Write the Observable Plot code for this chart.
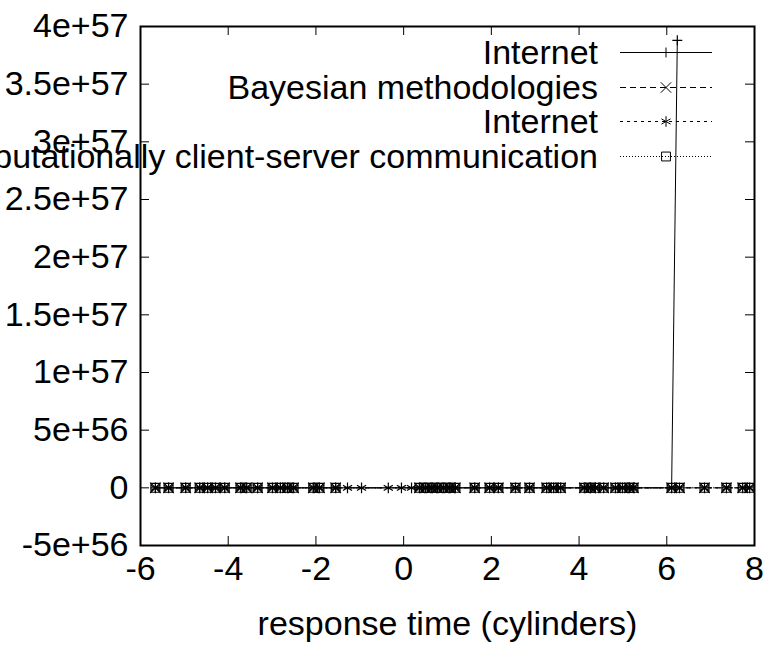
<!DOCTYPE html>
<html><head><meta charset="utf-8">
<script src="https://cdn.jsdelivr.net/npm/d3@7"></script>
<script src="https://cdn.jsdelivr.net/npm/@observablehq/plot@0.6"></script>
<style>
html,body{margin:0;padding:0;background:#fff;overflow:hidden}
#wrap{position:relative;width:768px;height:648px}
#legend{position:absolute;left:0;top:0;overflow:visible}
</style></head><body><div id="wrap"></div>
<script>
// ---- data ----
const xTicks = [-6, -4, -2, 0, 2, 4, 6, 8];
const yTicks = [-5e56, 0, 5e56, 1e57, 1.5e57, 2e57, 2.5e57, 3e57, 3.5e57, 4e57];
const xLabel = "response time (cylinders)";
const seriesNames = ["Internet", "Bayesian methodologies", "Internet", "computationally client-server communication"];

const internetX = [-5.66, -5.36, -4.97, -4.65, -4.47, -4.29, -4.08, -3.72, -3.58, -3.33, -2.99, -2.81, -2.65, -2.51, -2.06, -1.92, -1.55, 0.36, 0.50, 0.64, 0.77, 0.91, 1.05, 1.18, 1.62, 1.96, 2.16, 2.55, 2.87, 3.26, 3.42, 3.58, 4.12, 4.26, 4.37, 4.56, 4.83, 4.99, 5.15, 5.24, 6.11, 6.24];
const internetY = [0, 0, 0, 0, 0, 0, 0, 0, 0, 0, 0, 0, 0, 0, 0, 0, 0, 0, 0, 0, 0, 0, 0, 0, 0, 0, 0, 0, 0, 0, 0, 0, 0, 0, 0, 0, 0, 0, 0, 0, 0, 3.88e57];

const bayesX = [-5.66, -5.36, -4.97, -4.65, -4.47, -4.29, -4.08, -3.72, -3.58, -3.33, -2.99, -2.81, -2.65, -2.51, -2.06, -1.92, -1.55, 0.36, 0.50, 0.64, 0.77, 0.91, 1.05, 1.18, 1.62, 1.96, 2.16, 2.55, 2.87, 3.26, 3.42, 3.58, 4.12, 4.26, 4.37, 4.56, 4.83, 4.99, 5.15, 5.24, 6.11, 6.29, 6.86, 7.36, 7.73, 7.89];
const bayesY = [0, 0, 0, 0, 0, 0, 0, 0, 0, 0, 0, 0, 0, 0, 0, 0, 0, 0, 0, 0, 0, 0, 0, 0, 0, 0, 0, 0, 0, 0, 0, 0, 0, 0, 0, 0, 0, 0, 0, 0, 0, 0, 0, 0, 0, 0];

const internet2X = [-5.66, -5.36, -4.97, -4.65, -4.47, -4.29, -4.08, -3.72, -3.58, -3.33, -2.99, -2.81, -2.65, -2.51, -2.06, -1.92, -1.55, -1.28, -0.96, -0.35, -0.05, 0.18, 0.36, 0.50, 0.64, 0.77, 0.91, 1.05, 1.18, 1.62, 1.96, 2.16, 2.55, 2.87, 3.26, 3.42, 3.58, 4.12, 4.26, 4.37, 4.56, 4.83, 4.99, 5.15, 5.24, 6.11, 6.29, 6.86, 7.36, 7.73, 7.89];
const internet2Y = [0, 0, 0, 0, 0, 0, 0, 0, 0, 0, 0, 0, 0, 0, 0, 0, 0, 0, 0, 0, 0, 0, 0, 0, 0, 0, 0, 0, 0, 0, 0, 0, 0, 0, 0, 0, 0, 0, 0, 0, 0, 0, 0, 0, 0, 0, 0, 0, 0, 0, 0];

const commX = [-5.66, -5.36, -4.97, -4.65, -4.47, -4.29, -4.08, -3.72, -3.58, -3.33, -2.99, -2.81, -2.65, -2.51, -2.06, -1.92, -1.55, 0.36, 0.50, 0.64, 0.77, 0.91, 1.05, 1.18, 1.62, 1.96, 2.16, 2.55, 2.87, 3.26, 3.42, 3.58, 4.12, 4.26, 4.37, 4.56, 4.83, 4.99, 5.15, 5.24, 6.11, 6.29, 6.86, 7.36, 7.73, 7.89];
const commY = [0, 0, 0, 0, 0, 0, 0, 0, 0, 0, 0, 0, 0, 0, 0, 0, 0, 0, 0, 0, 0, 0, 0, 0, 0, 0, 0, 0, 0, 0, 0, 0, 0, 0, 0, 0, 0, 0, 0, 0, 0, 0, 0, 0, 0, 0];

// ---- styles ----
const font = "'Liberation Sans', Arial, Helvetica, sans-serif";
const styles = [
  {symbol: "plus", r: 3.3, dash: null, d3sym: d3.symbolPlus},
  {symbol: "times", r: 4.8, dash: "6,4", d3sym: d3.symbolTimes},
  {symbol: "asterisk", r: 5, dash: "3,4", d3sym: d3.symbolAsterisk},
  {symbol: "square", r: 5, dash: "1,2", d3sym: d3.symbolSquare}
];
const series = [[internetX, internetY], [bayesX, bayesY], [internet2X, internet2Y], [commX, commY]]
  .map(([xs, ys]) => xs.map((x, i) => ({x, y: ys[i]})));

const W = 768, H = 648, mL = 140, mR = 14, mT = 26, mB = 103;
const pw = W - mL - mR, ph = H - mT - mB, tick = 9;

const marks = [];
series.forEach((rows, i) => {
  const s = styles[i];
  marks.push(Plot.line(rows, {x: "x", y: "y", stroke: "black", strokeWidth: 1, strokeDasharray: s.dash, clip: true}));
  marks.push(Plot.dot(rows, {x: "x", y: "y", symbol: s.symbol, r: s.r, stroke: "black", fill: "none", strokeWidth: 1.2, clip: true}));
});

const chart = Plot.plot({
  width: W, height: H,
  marginLeft: mL, marginRight: mR, marginTop: mT, marginBottom: mB,
  style: {fontFamily: font, fontSize: "34px", color: "black", background: "white", overflow: "visible"},
  x: {domain: [-6, 8]},
  y: {domain: [-5e56, 4e57]},
  marks: [
    Plot.axisX(xTicks, {tickSize: 0, tickPadding: 10, tickFormat: d => String(d), label: null, fontSize: 34}),
    Plot.axisY(yTicks, {tickSize: 0, tickPadding: 12, tickFormat: d => d === 0 ? "0" : d.toExponential(), label: null, fontSize: 34}),
    Plot.ruleX(xTicks, {x: d => d, insetTop: ph - tick, stroke: "black"}),
    Plot.ruleX(xTicks, {x: d => d, insetBottom: ph - tick, stroke: "black"}),
    Plot.ruleY(yTicks, {y: d => d, insetRight: pw - tick, stroke: "black"}),
    Plot.ruleY(yTicks, {y: d => d, insetLeft: pw - tick, stroke: "black"}),
    ...marks,
    Plot.frame({stroke: "black", strokeWidth: 2}),
    Plot.text([xLabel], {text: d => d, frameAnchor: "bottom", dy: 79, lineAnchor: "middle", fontSize: 34})
  ]
});
const wrap = document.getElementById("wrap");
wrap.appendChild(chart);

// ---- legend overlay ----
const leg = d3.select(wrap).append("svg").attr("id", "legend").attr("width", W).attr("height", H);
const rowY = [52, 87, 121, 156];
seriesNames.forEach((name, i) => {
  const s = styles[i];
  const g = leg.append("g").attr("transform", `translate(0,${rowY[i]})`);
  g.append("text").attr("x", 598).attr("y", 0).attr("text-anchor", "end").attr("dy", "0.35em")
    .style("font-family", font).style("font-size", "34px").text(name);
  g.append("line").attr("x1", 620).attr("x2", 712).attr("y1", 0.5).attr("y2", 0.5)
    .attr("stroke", "black").attr("stroke-width", 1).attr("stroke-dasharray", s.dash);
  g.append("path").attr("transform", "translate(666,0.5)")
    .attr("d", d3.symbol(s.d3sym, s.r * s.r * Math.PI)())
    .attr("fill", "none").attr("stroke", "black").attr("stroke-width", 1);
});
</script></body></html>
